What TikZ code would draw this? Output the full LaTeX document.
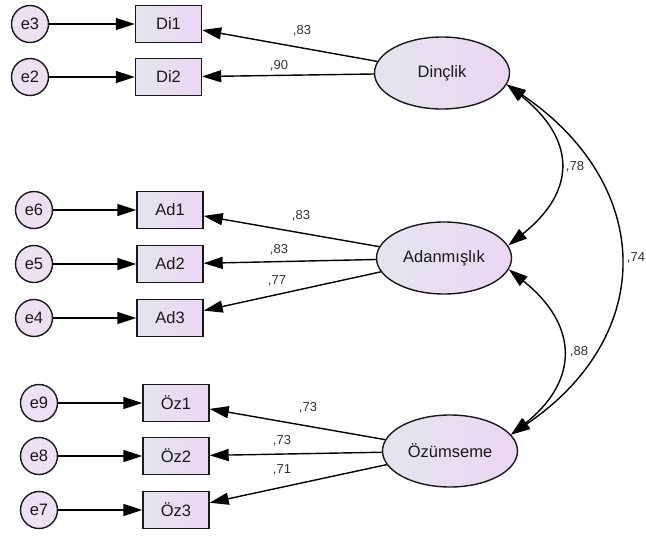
\documentclass[tikz,border=0pt]{standalone}
\usepackage{fontspec}
\setmainfont{Liberation Sans}
\usetikzlibrary{arrows.meta,shapes.geometric,calc}
\definecolor{boxL}{HTML}{E3E6EE}
\definecolor{boxR}{HTML}{ECD6F3}
\definecolor{errF}{HTML}{EEE0F3}
\definecolor{labC}{HTML}{333333}
\begin{document}
\begin{tikzpicture}[x=1pt,y=-1pt,
  every node/.style={inner sep=0pt},
  obs/.style={rectangle, draw=black!90, line width=1.4pt, minimum width=66pt, minimum height=37pt,
    left color=boxL, right color=boxR, text=black!90, font=\fontsize{16.5}{18}\selectfont},
  err/.style={circle, draw=black!90, line width=1.4pt, minimum size=37pt,
    left color=errF!80!boxL, right color=errF, text=black!90, font=\fontsize{16.5}{18}\selectfont},
  lat/.style={ellipse, draw=black!90, line width=1.4pt, minimum width=135pt, minimum height=72pt,
    left color=boxL, right color=boxR, text=black!90, font=\fontsize{16.5}{18}\selectfont},
  pth/.style={line width=1.4pt, -{Triangle[length=19pt,width=12pt]}},
  cov/.style={line width=1.4pt, {Triangle[length=19pt,width=12pt]}-{Triangle[length=19pt,width=12pt]}},
  lab/.style={text=labC, font=\fontsize{13}{15}\selectfont}
]
\useasboundingbox (0,0) rectangle (646,536);

% latent variables
\node[lat] (Dinc) at (442,73) {Dinçlik};
\node[lat] (Adan) at (444,258) {Adanmışlık};
\node[lat] (Ozum) at (450,451) {Özümseme};

% observed
\node[obs] (Di1) at (168.5,24) {Di1};
\node[obs] (Di2) at (168.5,77) {Di2};
\node[obs] (Ad1) at (170,210) {Ad1};
\node[obs] (Ad2) at (170,264) {Ad2};
\node[obs] (Ad3) at (170,318) {Ad3};
\node[obs] (Oz1) at (176,403) {Öz1};
\node[obs] (Oz2) at (176,456) {Öz2};
\node[obs] (Oz3) at (176,510) {Öz3};

% errors
\node[err] (e3) at (30,24) {e3};
\node[err] (e2) at (30,77) {e2};
\node[err] (e6) at (34,210) {e6};
\node[err] (e5) at (34,264) {e5};
\node[err] (e4) at (34,318) {e4};
\node[err] (e9) at (39,403) {e9};
\node[err] (e8) at (39,456) {e8};
\node[err] (e7) at (39,510) {e7};

% error paths
\foreach \a/\b in {e3/Di1,e2/Di2,e6/Ad1,e5/Ad2,e4/Ad3,e9/Oz1,e8/Oz2,e7/Oz3}
  \draw[pth] (\a) -- (\b);

% loadings
\foreach \a/\b in {Dinc/Di1,Dinc/Di2,Adan/Ad1,Adan/Ad2,Adan/Ad3,Ozum/Oz1,Ozum/Oz2,Ozum/Oz3}
  \draw[pth] (\a) -- (\b);

% covariances
\draw[cov] (Dinc.-10) .. controls ($(Dinc.-10)+(69,55)$) and ($(Adan.11)+(69,-55)$) .. (Adan.11);
\draw[cov] (Adan.-10) .. controls ($(Adan.-10)+(69,55)$) and ($(Ozum.15)+(69,-55)$) .. (Ozum.15);
\draw[cov] (Dinc.-10) .. controls ($(Dinc.-10)+(147,100)$) and ($(Ozum.15)+(147,-100)$) .. (Ozum.15);

% labels
\node[lab] (l1) at (302,31) {,83};
\node[lab] (l2) at (279,66) {,90};
\node[lab] (l3) at (301,216) {,83};
\node[lab] (l4) at (279,250) {,83};
\node[lab] (l5) at (277,281) {,77};
\node[lab] (l6) at (308,408) {,73};
\node[lab] (l7) at (282,441) {,73};
\node[lab] (l8) at (282,470) {,71};
\node[lab] (l9) at (575,167) {,78};
\node[lab] (l10) at (636,258) {,74};
\node[lab] (l11) at (579,352) {,88};
\end{tikzpicture}
\end{document}
